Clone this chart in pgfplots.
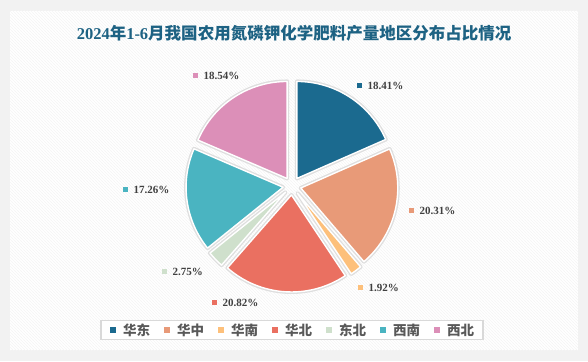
\documentclass[border=0pt]{standalone}
\usepackage{pgfplots}
\pgfplotsset{compat=1.18}
\usepackage{fontspec}
\setmainfont{Liberation Serif}
\newfontfamily\cjk{Noto Sans CJK SC}
\usetikzlibrary{patterns}
\definecolor{cHD}{HTML}{1B6A8F}
\definecolor{cHZ}{HTML}{E89A78}
\definecolor{cHN}{HTML}{FDC07B}
\definecolor{cHB}{HTML}{EA7061}
\definecolor{cDB}{HTML}{CFE0CC}
\definecolor{cXN}{HTML}{4AB4C1}
\definecolor{cXB}{HTML}{DC8FB8}
\definecolor{titlec}{HTML}{1D6283}
\definecolor{labc}{HTML}{404040}
\definecolor{legc}{HTML}{595959}
\def\cx{292}\def\cy{175}
% #1 cumulative share before slice, #2 share, #3 colour
\newcommand{\slice}[3]{%
  \path[fill=#3, draw=white, line width=1.4pt, line join=round,
        preaction={draw=black!13, line width=4pt, line join=round}]
    ([shift={({90-3.6*(#1+#2/2)}:9pt)}]axis cs:\cx,\cy)
    -- ++({90-3.6*#1}:97pt)
    arc[start angle={90-3.6*#1}, end angle={90-3.6*(#1+#2)}, radius=97pt]
    -- cycle;}
\newcommand{\plab}[4]{% x, y, colour, text
  \node[anchor=west, inner sep=0pt, text=labc,
        font=\bfseries\fontsize{11}{11}\selectfont] at (axis cs:#1,#2)
    {\textcolor{#3}{\raisebox{1.3pt}{\rule{5pt}{5pt}}}\hspace{5.5pt}#4\%};}
\begin{document}
\begin{tikzpicture}
\begin{axis}[
  scale only axis, width=588pt, height=361pt,
  xmin=0, xmax=588, ymin=0, ymax=361,
  hide axis, clip=false,
  legend image code/.code={\fill[#1] (0pt,-3pt) rectangle (6pt,3pt);},
  legend columns=-1,
  legend style={at={(0.4966,0.0859)}, anchor=center,
    draw=black!15, line width=1.2pt, fill=white,
    inner xsep=9pt, inner ysep=4pt,
    font=\cjk\bfseries\fontsize{13.5}{14}\selectfont, text=legc,
    nodes={inner sep=0pt, text depth=0pt},
    /tikz/every odd column/.append style={column sep=7pt},
    /tikz/every even column/.append style={column sep=14pt}},
]
\fill[black!5] (axis cs:0,0) rectangle (axis cs:588,361);
\fill[white] (axis cs:10,11) rectangle (axis cs:578,350);
\fill[pattern=north west lines, pattern color=black!4] (axis cs:10,11) rectangle (axis cs:578,350);

\node[font=\bfseries\fontsize{16.5}{17}\selectfont, text=titlec] at (axis cs:294,328)
  {2024{\cjk 年}1-6{\cjk 月我国农用氮磷钾化学肥料产量地区分布占比情况}};

% shares (%): 华东 18.41, 华中 20.31, 华南 1.92, 华北 20.82, 东北 2.75, 西南 17.26, 西北 18.54
\slice{0}{18.41}{cHD}
\slice{18.41}{20.31}{cHZ}
\slice{38.72}{1.92}{cHN}
\slice{40.64}{20.82}{cHB}
\slice{61.46}{2.75}{cDB}
\slice{64.21}{17.26}{cXN}
\slice{81.47}{18.54}{cXB}

\plab{357}{275}{cHD}{18.41}
\plab{409}{150}{cHZ}{20.31}
\plab{358}{73}{cHN}{1.92}
\plab{212}{58}{cHB}{20.82}
\plab{162}{89}{cDB}{2.75}
\plab{123}{171}{cXN}{17.26}
\plab{193}{285}{cXB}{18.54}

\addlegendimage{fill=cHD, draw=none}\addlegendentry{华东}
\addlegendimage{fill=cHZ, draw=none}\addlegendentry{华中}
\addlegendimage{fill=cHN, draw=none}\addlegendentry{华南}
\addlegendimage{fill=cHB, draw=none}\addlegendentry{华北}
\addlegendimage{fill=cDB, draw=none}\addlegendentry{东北}
\addlegendimage{fill=cXN, draw=none}\addlegendentry{西南}
\addlegendimage{fill=cXB, draw=none}\addlegendentry{西北}
\end{axis}
\end{tikzpicture}
\end{document}
